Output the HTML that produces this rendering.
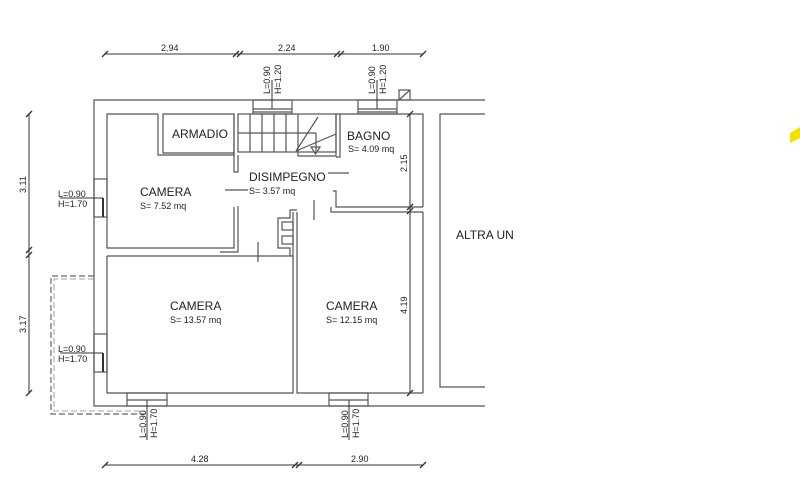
<!DOCTYPE html>
<html><head><meta charset="utf-8"><style>
html,body{margin:0;padding:0;background:#fff;}
svg{display:block;}
text{font-family:"Liberation Sans",sans-serif;fill:#222;}
</style></head><body>
<svg width="800" height="495" viewBox="0 0 800 495" xmlns="http://www.w3.org/2000/svg">
<g fill="none" stroke="#555" stroke-width="1.2">
<!-- outer -->
<polyline points="485,100 94,100 94,406 485,406"/>
<!-- camera upper left -->
<polyline points="158,114 107,114 107,248 234,248 234,207"/>
<polyline points="238,206 238,252 220,252"/>
<!-- armadio -->
<polyline points="158,114 158,155 234,155 234,114 163,114 163,153 234,153"/>
<polyline points="234,114 234,172 238,172 238,155"/>
<!-- stairs -->
<rect x="238" y="114" width="98" height="38"/>
<line x1="250" y1="114" x2="250" y2="152"/><line x1="262" y1="114" x2="262" y2="152"/>
<line x1="274" y1="114" x2="274" y2="152"/><line x1="286" y1="114" x2="286" y2="152"/>
<line x1="298" y1="114" x2="298" y2="152"/><line x1="238" y1="133" x2="316" y2="133"/>
<line x1="296" y1="151" x2="318" y2="117"/><line x1="296" y1="151" x2="336" y2="134"/>
<polyline points="316,133 316,151"/>
<polygon points="311,147 320,147 315.5,154"/>
<polyline points="298,152 298,156 336,156 336,114 340,114 340,157 336,157"/>
<!-- bagno -->
<polyline points="340,114 423,114 423,207"/>
<polyline points="423,212 423,393"/>
<line x1="328" y1="173" x2="349" y2="173"/>
<line x1="225" y1="190" x2="248" y2="190"/>
<polyline points="333,191 336,191 336,207 423,207"/>
<polyline points="331,207 331,212 423,212"/>
<!-- altra unita -->
<polyline points="485,114 440,114 440,387 485,387"/>
<!-- lower rooms -->
<polyline points="107,256 107,393 293,393 293,256 107,256"/>
<polyline points="293,212 293,256"/><polyline points="297,212 297,393 423,393"/>
<polyline points="297,210 290,210 290,218 278,218 278,248 290,248 290,256"/>
<rect x="282" y="222" width="11" height="8"/><rect x="282" y="236" width="11" height="8"/>
<line x1="258" y1="242" x2="258" y2="262"/><line x1="314" y1="200" x2="314" y2="220"/>
<!-- windows top -->
<rect x="253" y="100" width="39" height="14"/><line x1="253" y1="109" x2="292" y2="109"/><line x1="253" y1="112" x2="292" y2="112"/>
<rect x="358" y="100" width="39" height="14"/><line x1="358" y1="109" x2="397" y2="109"/><line x1="358" y1="112" x2="397" y2="112"/>
<rect x="399" y="90" width="11" height="10"/><line x1="399" y1="100" x2="410" y2="90"/>
<!-- windows left -->
<rect x="94" y="179" width="13" height="38"/><rect x="94" y="334" width="13" height="38"/>
<!-- windows bottom -->
<rect x="127" y="393" width="40" height="13"/><line x1="127" y1="400" x2="167" y2="400"/>
<rect x="329" y="393" width="39" height="13"/><line x1="329" y1="400" x2="368" y2="400"/>
</g>
<g stroke="#333" stroke-width="1">
<line x1="272" y1="80" x2="272" y2="109"/><line x1="377" y1="80" x2="377" y2="109"/>
<line x1="103" y1="198" x2="103" y2="217" stroke-width="2"/><line x1="103" y1="353" x2="103" y2="372" stroke-width="2"/>
<line x1="60" y1="198" x2="103" y2="198"/><line x1="60" y1="353" x2="103" y2="353"/>
<line x1="147" y1="400" x2="147" y2="440"/><line x1="349" y1="400" x2="349" y2="440"/>
<!-- dims -->
<line x1="105" y1="54" x2="423" y2="54"/>
<line x1="105" y1="465" x2="423" y2="465"/>
<line x1="29" y1="114" x2="29" y2="393"/>
<line x1="410" y1="114" x2="410" y2="393"/>
<g stroke-width="1.3">
<line x1="102" y1="57" x2="108" y2="51"/><line x1="233" y1="57" x2="239" y2="51"/><line x1="237" y1="57" x2="243" y2="51"/>
<line x1="334" y1="57" x2="340" y2="51"/><line x1="338" y1="57" x2="344" y2="51"/><line x1="420" y1="57" x2="426" y2="51"/>
<line x1="102" y1="468" x2="108" y2="462"/><line x1="292" y1="468" x2="298" y2="462"/><line x1="296" y1="468" x2="302" y2="462"/><line x1="420" y1="468" x2="426" y2="462"/>
<line x1="26" y1="117" x2="32" y2="111"/><line x1="26" y1="253" x2="32" y2="247"/><line x1="26" y1="258" x2="32" y2="252"/><line x1="26" y1="396" x2="32" y2="390"/>
<line x1="407" y1="117" x2="413" y2="111"/><line x1="407" y1="210" x2="413" y2="204"/><line x1="407" y1="214" x2="413" y2="208"/><line x1="407" y1="396" x2="413" y2="390"/>
</g>
</g>
<polyline points="94,276 51,276 51,414 145,414" fill="none" stroke="#666" stroke-width="1.2" stroke-dasharray="6,3"/>
<polyline points="94,279 54,279 54,411 145,411" fill="none" stroke="#888" stroke-width="0.8" stroke-dasharray="6,3"/>
<polygon points="790,133 800,127 800,138 790,143" fill="#f5e000"/>
<g font-size="12">
<text x="172" y="138">ARMADIO</text>
<text x="347" y="140">BAGNO</text>
<text x="249" y="181">DISIMPEGNO</text>
<text x="140" y="196">CAMERA</text>
<text x="170" y="310">CAMERA</text>
<text x="326" y="310">CAMERA</text>
<text x="456" y="239">ALTRA UN</text>
</g>
<g font-size="9">
<text x="348" y="152">S= 4.09 mq</text>
<text x="249" y="194">S= 3.57 mq</text>
<text x="140" y="209">S= 7.52 mq</text>
<text x="170" y="323">S= 13.57 mq</text>
<text x="326" y="323">S= 12.15 mq</text>
<text x="161" y="51">2.94</text><text x="278" y="51">2.24</text><text x="372" y="51">1.90</text>
<text x="191" y="462">4.28</text><text x="351" y="462">2.90</text>
<text x="58" y="197">L=0.90</text><text x="58" y="207">H=1.70</text>
<text x="58" y="352">L=0.90</text><text x="58" y="362">H=1.70</text>
<text transform="translate(26,193) rotate(-90)">3.11</text>
<text transform="translate(26,333) rotate(-90)">3.17</text>
<text transform="translate(407,172) rotate(-90)">2.15</text>
<text transform="translate(407,314) rotate(-90)">4.19</text>
<text transform="translate(270,94) rotate(-90)">L=0.90</text><text transform="translate(281,94) rotate(-90)">H=1.20</text>
<text transform="translate(375,94) rotate(-90)">L=0.90</text><text transform="translate(386,94) rotate(-90)">H=1.20</text>
<text transform="translate(146,438) rotate(-90)">L=0.90</text><text transform="translate(157,438) rotate(-90)">H=1.70</text>
<text transform="translate(348,438) rotate(-90)">L=0.90</text><text transform="translate(359,438) rotate(-90)">H=1.70</text>
</g>
</svg>
</body></html>
